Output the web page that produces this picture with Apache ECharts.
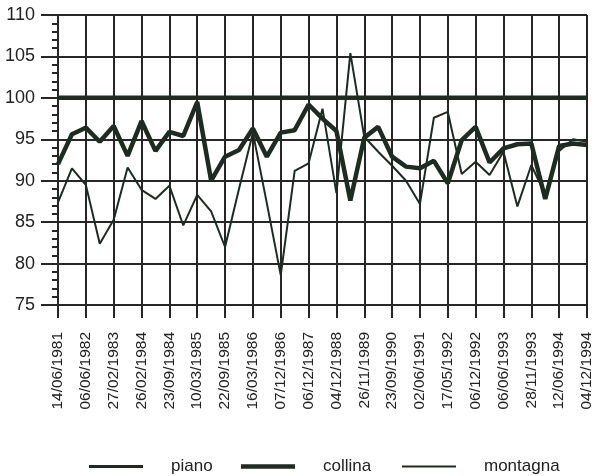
<!DOCTYPE html>
<html>
<head>
<meta charset="utf-8">
<script src="https://cdn.jsdelivr.net/npm/echarts@6/dist/echarts.min.js"></script>
<style>
html,body{margin:0;padding:0;background:#fff;}
#chart{width:597px;height:476px;}
</style>
</head>
<body>
<div id="chart"></div>
<script>
// Labelled dates (every other observation)
const dateLabels = ['14/06/1981','06/06/1982','27/02/1983','26/02/1984','23/09/1984','10/03/1985','22/09/1985','16/03/1986','07/12/1986','06/12/1987','04/12/1988','26/11/1989','23/09/1990','02/06/1991','17/05/1992','06/12/1992','06/06/1993','28/11/1993','12/06/1994','04/12/1994'];

const piano = [100,100,100,100,100,100,100,100,100,100,100,100,100,100,100,100,100,100,100,100,100,100,100,100,100,100,100,100,100,100,100,100,100,100,100,100,100,100,100];

const collina = [92.0,95.6,96.4,94.7,96.6,93.0,97.2,93.6,95.9,95.4,99.5,90.0,92.9,93.7,96.3,92.9,95.8,96.1,99.2,97.5,96.0,87.6,95.2,96.5,92.9,91.7,91.5,92.4,89.7,94.9,96.5,92.2,93.9,94.4,94.5,87.8,94.2,94.5,94.3];

const montagna = [87.4,91.5,89.5,82.4,85.3,91.6,88.9,87.8,89.4,84.6,88.3,86.3,82.0,89.0,95.8,87.3,78.6,91.2,92.1,98.7,88.5,105.4,95.3,93.5,91.8,90.0,87.2,97.6,98.3,90.8,92.3,90.7,93.5,86.9,91.9,88.3,93.6,95.0,94.7];

const yTicks = [75,80,85,90,95,100,105,110];

// Category axis: labelled dates with unlabelled observations between them
const categories = [];
dateLabels.forEach((d, i) => {
  categories.push(d);
  if (i < dateLabels.length - 1) categories.push('');
});

const ink = '#1f2a23';
const gridInk = '#262626';
const font = '"Liberation Sans", Arial, sans-serif';

function legendFor(name, left, thickness) {
  return {
    left: left, top: 453,
    icon: 'rect',
    itemWidth: 54, itemHeight: thickness,
    textStyle: { fontFamily: font, fontSize: 17, color: '#222', padding: [0,0,0,23] },
    itemStyle: { color: ink },
    data: [name]
  };
}

const chart = echarts.init(document.getElementById('chart'));
chart.setOption({
  animation: false,
  backgroundColor: '#fff',
  grid: { left: 58, right: 10, top: 15, bottom: 171, containLabel: false },
  legend: [
    legendFor('piano', 84, 3),
    legendFor('collina', 236, 4.5),
    legendFor('montagna', 397, 2)
  ],
  xAxis: {
    type: 'category',
    data: categories,
    boundaryGap: false,
    axisLine: { show: true, onZero: false, lineStyle: { color: gridInk, width: 2 } },
    axisTick: { show: true, interval: 1, length: 13, lineStyle: { color: gridInk, width: 2 } },
    axisLabel: { interval: 1, rotate: 90, margin: 27, fontFamily: font, fontSize: 15.5, color: '#222' },
    splitLine: { show: true, interval: 1, lineStyle: { color: gridInk, width: 2 } }
  },
  yAxis: {
    type: 'value',
    position: 'left',
    min: yTicks[0], max: yTicks[yTicks.length - 1], interval: 5,
    axisLine: { show: true, onZero: false, lineStyle: { color: gridInk, width: 2 } },
    axisTick: { show: true, inside: false, length: 17, lineStyle: { color: gridInk, width: 2 } },
    minorTick: { show: true, splitNumber: 5, length: 6, lineStyle: { color: gridInk, width: 2 } },
    axisLabel: { margin: 23, fontFamily: font, fontSize: 18, color: '#222' },
    splitLine: { show: true, lineStyle: { color: gridInk, width: 2 } }
  },
  series: [
    { name: 'piano', type: 'line', data: piano, symbol: 'none', lineStyle: { color: ink, width: 4.5 }, itemStyle: { color: ink }, z: 3 },
    { name: 'collina', type: 'line', data: collina, symbol: 'none', lineStyle: { color: ink, width: 4.5 }, itemStyle: { color: ink }, z: 4 },
    { name: 'montagna', type: 'line', data: montagna, symbol: 'none', lineStyle: { color: ink, width: 2 }, itemStyle: { color: ink }, z: 5 }
  ]
});
</script>
</body>
</html>
